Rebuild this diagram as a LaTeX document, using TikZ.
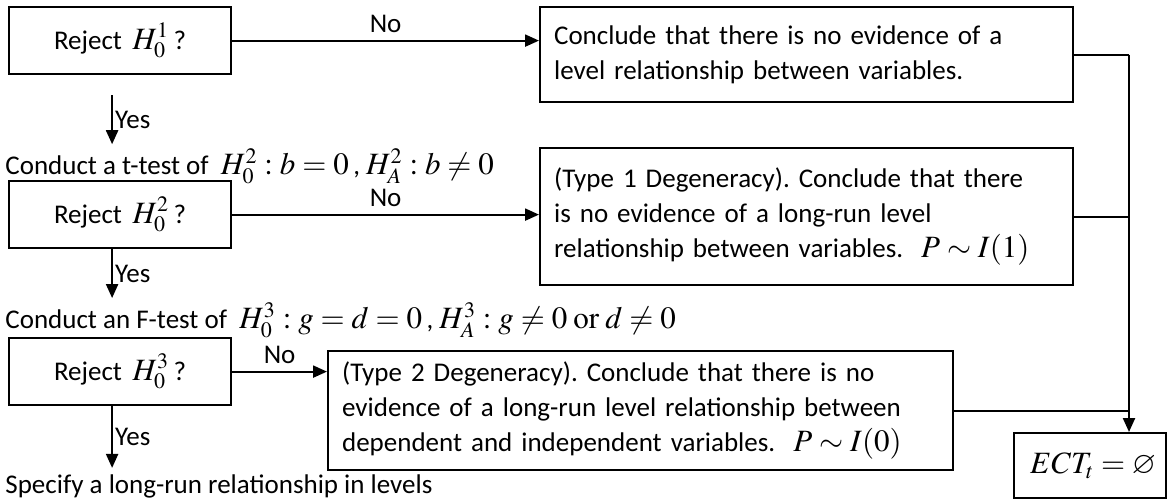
\documentclass[tikz,border=0pt]{standalone}
\usepackage{mathptmx}
\usepackage{amssymb}
\usepackage[no-math]{fontspec}
\setmainfont{Carlito}
\DeclareMathSizes{13.5}{15.5}{11}{9}
\frenchspacing
\usetikzlibrary{arrows.meta,positioning}

\begin{document}
\begin{tikzpicture}[x=0.5pt, y=-0.5pt,
    >={Triangle[length=7pt, width=6pt]},
    every node/.style={font=\fontsize{13.5}{17.5}\selectfont},
    decision/.style={rectangle, draw, line width=1.1pt, anchor=north west, minimum width=111pt, minimum height=33.5pt},
    outcome/.style={rectangle, draw, line width=1.1pt, anchor=north west, align=left, inner xsep=7pt},
    remark/.style={anchor=west, inner sep=0pt},
    flow/.style={->, line width=1.1pt},
    link/.style={line width=1.1pt}]

    \useasboundingbox (0,0) rectangle (1171,499);

    % decision boxes
    \node[decision] (rej1) at (8,6) {Reject \,$H_0^1$\,?};
    \node[decision] (rej2) at (8,180) {Reject \,$H_0^2$\,?};
    \node[decision] (rej3) at (8,337) {Reject \,$H_0^3$\,?};

    % conclusions
    \node[outcome, text width=252.5pt, minimum height=47.5pt] (concl) at (539,6)
        {Conclude that there is no evidence of a\\ level relationship between variables.};
    \node[outcome, text width=252.5pt, minimum height=68.5pt] (deg1) at (539,147)
        {(Type 1 Degeneracy). Conclude that there\\ is no evidence of a long-run level\\ relationship between variables.\ \ $P \sim I(1)$};
    \node[outcome, text width=298.5pt, minimum height=59.5pt] (deg2) at (327,350)
        {(Type 2 Degeneracy). Conclude that there is no\\ evidence of a long-run level relationship between\\ dependent and independent variables.\ \ $P \sim I(0)$};
    \node[draw, line width=1.1pt, anchor=north west, minimum width=76pt, minimum height=32.5pt] (ect) at (1013,432)
        {\hspace{3pt}$ECT_t = \varnothing$};

    % test statements
    \node[remark] (ttest) at (5,166) {Conduct a t-test of \ $H_0^2 : b = 0$\,, $H_A^2 : b \neq 0$};
    \node[remark] (ftest) at (5,320) {Conduct an F-test of \ $H_0^3 : g = d = 0$\,, $H_A^3 : g \neq 0 \mathrm{\ or\ } d \neq 0$};
    \node[remark] (spec) at (5,486) {Specify a long-run relationship in levels};

    \coordinate (bus) at (1129,0);

    % No branches
    \draw[flow] (rej1) -- node[above] {No} (rej1 -| concl.west);
    \draw[flow] (rej2) -- node[above] {No} (rej2 -| deg1.west);
    \draw[flow] (rej3) -- node[above] {No} (rej3 -| deg2.west);

    % Yes branches
    \draw[flow] ([xshift=-4pt, yshift=-10pt]rej1.south) -- node[right, inner sep=1pt] {Yes} ([xshift=-4pt, yshift=2pt]rej1.south |- ttest.north);
    \draw[flow] ([xshift=-4pt]rej2.south) -- node[right, inner sep=1pt] {Yes} ([xshift=-4pt, yshift=2pt]rej2.south |- ftest.north);
    \draw[flow] ([xshift=-4pt]rej3.south) -- node[right, inner sep=1pt] {Yes} ([xshift=-4pt, yshift=3pt]rej3.south |- spec.north);

    % into the empty error-correction term
    \draw[link] (concl.east) -- (concl.east -| bus);
    \draw[link] (deg1.east) -- (deg1.east -| bus);
    \draw[link] (deg2.east) -- (deg2.east -| bus);
    \draw[flow] (concl.east -| bus) -- (bus |- ect.north);
\end{tikzpicture}
\end{document}
